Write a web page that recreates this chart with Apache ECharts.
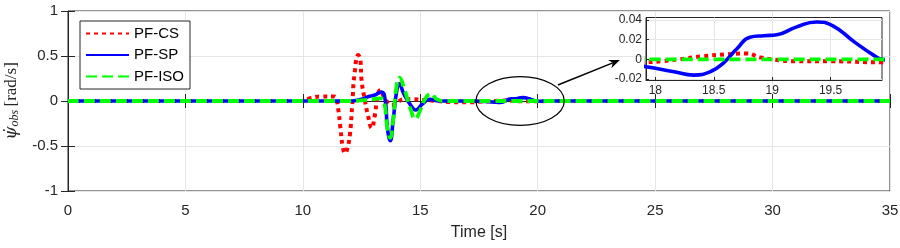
<!DOCTYPE html>
<html><head><meta charset="utf-8">
<script src="https://cdn.jsdelivr.net/npm/echarts@6/dist/echarts.min.js"></script>
<style>html,body{margin:0;padding:0;background:#fff}#c{width:900px;height:248px}</style>
</head><body><div id="c"></div>
<script>
// ---- data ----
const seriesNames = ['PF-CS', 'PF-SP', 'PF-ISO'];
const xTicksMain = [0, 5, 10, 15, 20, 25, 30, 35];
const yTicksMain = [-1, -0.5, 0, 0.5, 1];
const xTicksInset = [18, 18.5, 19, 19.5];
const yTicksInset = [-0.02, 0, 0.02, 0.04];

const tCS = [0, 10, 10.3, 10.8, 11.3, 11.4, 11.5, 11.6, 11.7, 11.8, 11.9, 12.0, 12.1, 12.2, 12.36, 12.45, 12.5, 12.64, 12.78, 12.93, 13.05, 13.2, 13.3, 13.45, 13.78, 14.0, 14.3, 14.7, 15.2, 15.7, 16.2, 16.6, 17.1, 17.6, 17.92, 18.05, 18.2, 18.4, 18.6, 18.77, 18.9, 19.0, 19.2, 19.5, 19.94, 20.5, 35];
const vCS = [0, 0, 0.03, 0.05, 0.05, 0.04, -0.08, -0.3, -0.51, -0.58, -0.52, -0.38, -0.05, 0.3, 0.51, 0.45, 0.23, 0.01, -0.17, -0.30, -0.18, 0.08, 0.12, 0.05, -0.045, -0.02, 0.02, 0.02, 0.01, 0.0, -0.01, -0.015, -0.015, -0.006, -0.003, -0.002, 0.0, 0.003, 0.005, 0.006, 0.002, 0.0, -0.002, -0.002, -0.003, 0, 0];

const tSP = [0, 12, 12.5, 12.8, 13.1, 13.35, 13.5, 13.6, 13.72, 13.85, 14.0, 14.1, 14.3, 14.6, 14.8, 15.1, 15.4, 15.8, 16.5, 17.5, 17.8, 17.92, 18.16, 18.33, 18.47, 18.58, 18.70, 18.81, 18.93, 19.04, 19.21, 19.38, 19.52, 19.70, 19.87, 19.94, 20.1, 20.5, 35];
const vSP = [0, 0, 0.02, 0.05, 0.07, 0.1, 0.02, -0.3, -0.44, -0.2, 0.12, 0.19, 0.08, -0.05, -0.1, -0.03, 0.02, 0.0, 0.0, -0.003, -0.006, -0.0075, -0.0126, -0.016, -0.0126, -0.004, 0.011, 0.0225, 0.024, 0.025, 0.033, 0.038, 0.034, 0.018, 0.004, 0.0, -0.002, 0, 0];

const tISO = [0, 12, 12.6, 13.0, 13.3, 13.45, 13.6, 13.72, 13.85, 13.98, 14.12, 14.3, 14.6, 14.78, 15.0, 15.2, 15.45, 15.7, 16.0, 17.0, 18.0, 19.0, 20.0, 35];
const vISO = [0, 0, 0.01, 0.02, 0.03, 0.0, -0.3, -0.41, -0.2, 0.15, 0.26, 0.15, -0.1, -0.2, -0.1, 0.02, 0.08, 0.02, 0, 0, 0, 0, 0, 0];

const pairs = (t, v) => t.map((x, i) => [x, v[i]]);
const dCS = pairs(tCS, vCS), dSP = pairs(tSP, vSP), dISO = pairs(tISO, vISO);

const AX = '#262626', GRIDC = '#e5e5e5';
const FONT = '"Liberation Sans", Arial, Helvetica, sans-serif';
const RED = '#ff0000', BLUE = '#0000ff', GREEN = '#00ff00';

const styles = [
  { color: RED, width: 4, type: [4, 4] },
  { color: BLUE, width: 3.6, type: 'solid' },
  { color: GREEN, width: 3.8, type: [11, 5] }
];
const datas = [dCS, dSP, dISO];

function mkSeries(gi, z) {
  return datas.map((d, i) => ({
    name: seriesNames[i], type: 'line', xAxisIndex: gi, yAxisIndex: gi,
    data: d, showSymbol: false, symbol: 'none', smooth: 0.5,
    clip: true, z: z + i, animation: false,
    lineStyle: { color: styles[i].color, width: styles[i].width, type: styles[i].type, cap: 'butt', join: 'round' },
    itemStyle: { color: styles[i].color }
  }));
}

const chart = echarts.init(document.getElementById('c'), null, { renderer: 'canvas' });
const option = {
  animation: false,
  backgroundColor: '#fff',
  textStyle: { fontFamily: FONT },
  grid: [
    { left: 68, top: 11, width: 822, height: 180, show: true, borderColor: AX, borderWidth: 1, backgroundColor: '#fff', z: 0, outerBoundsMode: 'none', containLabel: false },
    { left: 646, top: 17.5, width: 236, height: 62.5, show: true, borderColor: AX, borderWidth: 1, backgroundColor: '#fff', z: 10, outerBoundsMode: 'none', containLabel: false }
  ],
  xAxis: [
    { type: 'value', gridIndex: 0, min: 0, max: 35, interval: 5,
      name: 'Time [s]', nameLocation: 'middle', nameGap: 34,
      nameTextStyle: { fontSize: 16, color: AX, fontFamily: FONT },
      axisLine: { show: true, lineStyle: { color: AX } },
      axisTick: { inside: true, length: 7, lineStyle: { color: AX } },
      axisLabel: { fontSize: 15, color: AX, margin: 12, fontFamily: FONT },
      splitLine: { show: true, lineStyle: { color: GRIDC } } },
    { type: 'value', gridIndex: 1, min: 17.92, max: 19.94, splitNumber: 4, z: 12,
      axisLine: { show: true, onZero: false, lineStyle: { color: AX } },
      axisTick: { inside: true, length: 3, lineStyle: { color: AX }, customValues: xTicksInset },
      axisLabel: { fontSize: 12, color: AX, margin: 5, fontFamily: FONT, customValues: xTicksInset },
      splitLine: { show: true, lineStyle: { color: GRIDC } } },
    { type: 'value', gridIndex: 0, min: 0, max: 35, interval: 5, position: 'top',
      axisLine: { show: false }, axisTick: { inside: true, length: 7, lineStyle: { color: AX } },
      axisLabel: { show: false }, splitLine: { show: false } }
  ],
  yAxis: [
    { type: 'value', gridIndex: 0, min: -1, max: 1, interval: 0.5,
      name: '{psi|ψ̇}{sub|obs} {u|[rad/s]}', nameLocation: 'middle', nameGap: 44, nameRotate: 90,
      nameTextStyle: { color: AX, rich: {
        psi: { fontFamily: '"DejaVu Serif", "Liberation Serif", serif', fontStyle: 'italic', fontSize: 17, color: AX },
        sub: { fontFamily: '"Liberation Serif", serif', fontStyle: 'italic', fontSize: 12, color: AX, padding: [8, 0, 0, 0] },
        u: { fontFamily: '"Liberation Serif", serif', fontSize: 17, color: AX }
      } },
      axisLine: { show: true, lineStyle: { color: AX } },
      axisTick: { inside: true, length: 7, lineStyle: { color: AX } },
      axisLabel: { fontSize: 15, color: AX, margin: 10, fontFamily: FONT },
      splitLine: { show: true, lineStyle: { color: GRIDC } } },
    { type: 'value', gridIndex: 1, min: -0.021, max: 0.0425, splitNumber: 3, z: 12,
      axisLine: { show: true, onZero: false, lineStyle: { color: AX } },
      axisTick: { inside: true, length: 3, lineStyle: { color: AX }, customValues: yTicksInset },
      axisLabel: { fontSize: 12, color: AX, margin: 4, fontFamily: FONT, customValues: yTicksInset },
      splitLine: { show: true, lineStyle: { color: GRIDC } } },
    { type: 'value', gridIndex: 0, min: -1, max: 1, interval: 0.5, position: 'right',
      axisLine: { show: false }, axisTick: { inside: true, length: 7, lineStyle: { color: AX } },
      axisLabel: { show: false }, splitLine: { show: false } }
  ],
  legend: {
    data: seriesNames, orient: 'vertical', left: 80, top: 21,
    itemWidth: 43, itemHeight: 14, itemGap: 6.5,
    padding: [5, 6, 5, 5], borderColor: AX, borderWidth: 1, backgroundColor: '#fff',
    itemStyle: { opacity: 0 },
    textStyle: { fontSize: 15, color: '#000', fontFamily: FONT, padding: [0, 0, 0, 0] },
    z: 20
  },
  series: [...mkSeries(0, 2), ...mkSeries(1, 13)]
};
chart.setOption(option);

// annotation: ellipse around the zoomed region and arrow toward the inset
const c0 = chart.convertToPixel({ gridIndex: 0 }, [19.25, 0]);
const e1 = chart.convertToPixel({ gridIndex: 0 }, [21.13, 0.27]);
const a0 = chart.convertToPixel({ gridIndex: 0 }, [20.86, 0.178]);
const a1 = chart.convertToPixel({ gridIndex: 0 }, [23.5, 0.456]);
const rx = e1[0] - c0[0], ry = c0[1] - e1[1];
const ang = Math.atan2(a1[1] - a0[1], a1[0] - a0[0]);
const L = 11, W = 4.5;
const bx = a1[0] - L * Math.cos(ang), by = a1[1] - L * Math.sin(ang);
const nx = -Math.sin(ang), ny = Math.cos(ang);
const notch = [a1[0] - 0.7 * L * Math.cos(ang), a1[1] - 0.7 * L * Math.sin(ang)];
chart.setOption({
  graphic: [
    { type: 'ellipse', shape: { cx: c0[0], cy: c0[1], rx: rx, ry: ry }, style: { fill: null, stroke: '#000', lineWidth: 1.2 }, z: 30 },
    { type: 'polyline', shape: { points: [a0, notch] }, style: { stroke: '#000', lineWidth: 1.5 }, z: 30 },
    { type: 'polygon', shape: { points: [a1, [bx + W * nx, by + W * ny], notch, [bx - W * nx, by - W * ny]] }, style: { fill: '#000' }, z: 30 }
  ]
});
</script></body></html>
